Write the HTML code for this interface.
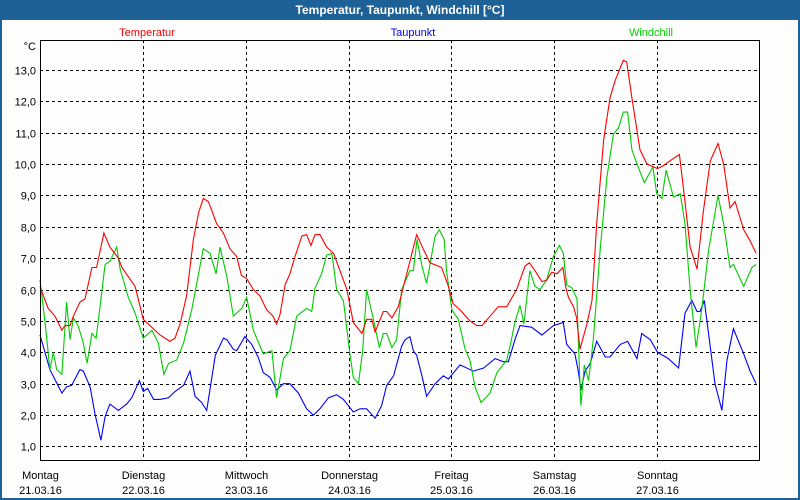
<!DOCTYPE html>
<html><head><meta charset="utf-8"><style>
html,body{margin:0;padding:0;background:#fff}
svg{display:block;font-family:"Liberation Sans","DejaVu Sans",sans-serif}
</style></head><body>
<svg id="chart" width="800" height="500" viewBox="0 0 800 500">
<rect x="0" y="0" width="800" height="500" fill="#1d6196"/>
<rect x="2" y="20" width="796" height="478" fill="#fdfefd"/>
<text x="400" y="14" text-anchor="middle" fill="#fff" font-size="12" font-weight="bold">Temperatur, Taupunkt, Windchill [°C]</text>
<text x="147" y="36" text-anchor="middle" fill="#f00" font-size="11">Temperatur</text>
<text x="413" y="36" text-anchor="middle" fill="#00f" font-size="11">Taupunkt</text>
<text x="651" y="36" text-anchor="middle" fill="#0c0" font-size="11">Windchill</text>
<text x="36" y="50" text-anchor="end" fill="#000" font-size="11">°C</text>
<g id="grid"></g><g id="series"></g><g id="labels"></g>
<rect x="40.5" y="40.5" width="719" height="420" fill="none" stroke="#000" stroke-width="1"/>
</svg>
<script>
const yTicks=[1,2,3,4,5,6,7,8,9,10,11,12,13];
const yTickLabels=["1,0","2,0","3,0","4,0","5,0","6,0","7,0","8,0","9,0","10,0","11,0","12,0","13,0"];
const dayNames=["Montag","Dienstag","Mittwoch","Donnerstag","Freitag","Samstag","Sonntag"];
const dayDates=["21.03.16","22.03.16","23.03.16","24.03.16","25.03.16","26.03.16","27.03.16"];
const tempH=[0,1.9,3.5,5.1,5.8,7,7.8,9.3,10.5,12.1,13.2,14.9,16.3,18.3,19.1,22.2,24.1,25.7,28,30.3,31.5,32.7,34.2,35.8,37,38.1,39.3,41.2,42.8,44.3,45.9,47,48.2,49.8,51.3,52.9,54.4,55.2,56,57.2,58.3,59.5,61.1,62.2,63.2,64.2,65.3,66.9,68.5,70,71.6,73.1,75.1,76.2,77.4,78.2,80.1,80.9,82.1,83.6,85.2,86.3,87.9,89.4,91,93.7,95.3,96.4,98,100.3,101.9,103.1,105,106.9,108.9,111.2,113.2,114.2,115.5,117.1,118.2,119.4,120.6,122,122.7,123.3,124.5,125.2,126,127.6,128.8,129.9,131.5,133,134.2,136.1,136.9,138.1,140,141.6,143.2,144.1,145.5,147,149.2,150.5,151.7,153.3,154.8,156.4,158.2,159.5,161,162.2,164.2,165.7,167.1];
const tempV=[6.1,5.4,5.15,4.7,4.85,4.85,5.15,5.6,5.7,6.7,6.7,7.8,7.35,7.0,6.7,6.1,5.05,4.85,4.55,4.35,4.45,4.9,5.8,7.6,8.45,8.9,8.8,8.1,7.8,7.3,7.05,6.45,6.35,6.0,5.8,5.35,5.15,4.9,5.2,6.15,6.5,7.05,7.7,7.75,7.4,7.75,7.75,7.35,7.15,6.6,6.0,4.95,4.6,5.05,5.05,4.65,5.3,5.3,5.1,5.45,6.3,6.9,7.75,7.3,6.85,6.7,6.1,5.55,5.35,5.0,4.85,4.85,5.15,5.45,5.45,6.0,6.75,6.85,6.6,6.25,6.3,6.55,6.5,6.7,6.05,5.75,5.45,5.1,4.1,4.9,5.65,8.1,10.75,12.1,12.65,13.3,13.25,12.1,10.45,10.0,9.9,9.85,9.95,10.1,10.3,8.8,7.35,6.65,8.5,10.1,10.65,10.0,8.6,8.8,7.9,7.55,7.15];
const dewH=[0,2.3,5.1,6.2,7.4,9.3,10.1,11.7,12.8,14.2,15.2,16.3,18.3,20.2,21.4,23.2,24.1,25.1,26.5,28,30,31.5,33.5,35,36.2,37.7,38.9,40.9,42.8,43.6,45.1,45.9,47.8,49.4,50.9,52.1,53.7,55.2,56.8,58.3,60.3,62.2,63.8,65.3,67.3,69.2,70.8,73.1,74.7,76.2,78.2,79.7,80.9,82.5,84.4,85.2,86.3,87.1,87.9,89.1,90.2,92.2,94.1,95.3,98,101.1,103.5,106.2,108.1,109.3,110.8,112,114.7,117.1,119.8,122.1,122.9,124.8,125.6,126.2,127.2,128.4,129.9,131.9,133,135.4,137.1,139.3,140.4,142.4,144.1,146.6,149,150.5,152.1,153.3,154,155,157.5,159.1,160.3,161.8,164.2,165.7,167.1];
const dewV=[4.55,3.45,2.7,2.9,2.95,3.45,3.4,2.9,2.05,1.2,1.95,2.35,2.15,2.35,2.55,3.1,2.75,2.85,2.5,2.5,2.55,2.75,2.95,3.4,2.6,2.4,2.15,3.9,4.45,4.4,4.1,4.05,4.5,4.25,3.85,3.35,3.2,2.8,3.0,3.0,2.7,2.2,2.0,2.2,2.55,2.65,2.5,2.1,2.2,2.2,1.9,2.3,2.95,3.25,4.2,4.4,4.5,4.05,3.9,3.25,2.6,3.0,3.25,3.15,3.6,3.4,3.5,3.8,3.7,3.7,4.4,4.85,4.8,4.55,4.85,4.95,4.25,3.95,3.4,2.8,3.4,3.65,4.35,3.85,3.85,4.25,4.35,3.8,4.6,4.4,4.0,3.8,3.5,5.25,5.65,5.3,5.3,5.65,3.0,2.15,3.75,4.75,3.95,3.4,3.0];
const chillH=[0,1.2,2.3,3.1,3.9,5.1,6.2,7,7.8,8.9,10.1,11,12.1,13.1,14,15.2,16.3,17.9,18.7,20.6,22.2,24.1,26.1,27.6,28.9,30,31.9,33.5,35.4,38.1,39.7,41.1,42,43.6,45.1,47.1,48.2,49.8,52.1,54.1,55.2,56.8,58.3,59.9,62.2,63.4,64.2,65.7,66.9,68.1,69.2,70.8,72.3,73.1,74.3,75.3,76.2,77.8,79.2,80.1,80.9,82.1,83.2,84.4,86.3,87.1,88,89.1,90.2,92.2,93.2,94.3,94.9,96.1,97.6,99.2,100.3,101.5,102.9,105,106.6,108.9,109.7,110.8,112,112.9,114.3,115.5,116.7,118.2,119.8,121.2,122.1,122.9,124.1,125.3,125.6,126.2,127,128,129.1,130.7,132.3,133.8,135,136.1,137.1,138.1,139.3,141,143,143.9,145.1,146.1,147.8,149.4,150.5,151.7,153.1,154.4,156,158.2,159.5,161,161.8,164.2,166.1,167.1];
const chillV=[6.3,4.95,3.45,4.0,3.45,3.3,5.6,4.4,5.1,4.85,4.3,3.65,4.6,4.45,5.45,6.8,6.9,7.35,6.65,5.75,5.25,4.45,4.7,4.3,3.3,3.65,3.75,4.3,5.35,7.3,7.15,6.5,7.35,6.4,5.15,5.4,5.75,4.7,3.95,4.05,2.55,3.8,4.05,5.15,5.4,5.3,6.05,6.5,7.1,7.15,6.0,5.65,3.95,3.2,3.0,4.05,6.0,5.05,4.15,4.6,4.6,4.15,4.4,6.0,6.6,6.6,7.6,6.75,6.2,7.7,7.9,7.6,6.55,5.35,5.05,4.1,3.75,2.9,2.4,2.7,3.35,3.75,4.2,4.95,5.5,4.9,6.6,6.1,6.0,6.3,7.05,7.4,7.15,6.15,6.05,5.7,4.4,2.3,3.6,3.1,4.4,7.25,9.6,10.95,11.15,11.65,11.65,10.45,10.0,9.4,9.9,9.05,8.9,9.8,8.95,9.05,8.1,6.0,4.15,5.35,7.25,9.0,8.1,6.7,6.8,6.1,6.7,6.8];

const NS="http://www.w3.org/2000/svg";
const X0=40,X1=760,HOURS=168;
function xs(h){return X0+(h/HOURS)*(X1-X0);}
function ys(v){return 69.7+(13-v)*31.4;}
function mk(tag,attrs,parent){const e=document.createElementNS(NS,tag);for(const k in attrs)e.setAttribute(k,attrs[k]);parent.appendChild(e);return e;}
const grid=document.getElementById('grid'),series=document.getElementById('series'),labels=document.getElementById('labels');
yTicks.forEach((t,i)=>{
  const y=Math.round(ys(t))+0.5;
  const l=mk('line',{x1:X0,x2:X1,y1:y,y2:y,stroke:'#000','stroke-dasharray':'3,3'},grid);
  
  
  const tx=mk('text',{x:36,y:y+4,'text-anchor':'end','font-size':'11',fill:'#000'},labels);
  tx.textContent=yTickLabels[i];
  
  
});
dayNames.forEach((d,i)=>{
  const x=Math.round(xs(i*24))+0.5;
  if(i>0){
    const l=mk('line',{x1:x,x2:x,y1:40,y2:460,stroke:'#000','stroke-dasharray':'3,3'},grid);
    
    
  }
  const t1=mk('text',{x:x,y:479,'text-anchor':'middle','font-size':'11',fill:'#000'},labels);
  t1.textContent=d;
  
  
  const t2=mk('text',{x:x,y:494,'text-anchor':'middle','font-size':'11',fill:'#000'},labels);
  t2.textContent=dayDates[i];
  
  
});
function line(H,V,color,name){
  const pts=H.map((h,i)=>xs(h).toFixed(1)+','+ys(V[i]).toFixed(1)).join(' ');
  const p=mk('polyline',{points:pts,fill:'none',stroke:color,'stroke-width':'1.1'},series);
  
  
}
line(dewH,dewV,'#0000ff','taupunkt-line');
line(chillH,chillV,'#00cc00','windchill-line');
line(tempH,tempV,'#ff0000','temperatur-line');
</script>
</body></html>
